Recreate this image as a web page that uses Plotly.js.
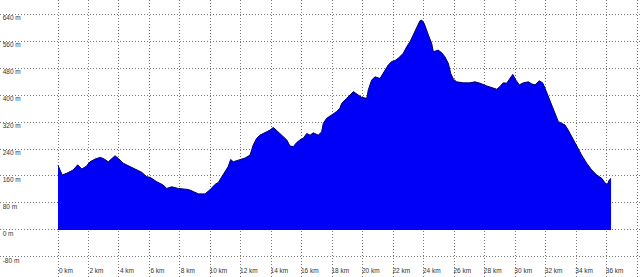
<!DOCTYPE html>
<html>
<head>
<meta charset="utf-8">
<script src="https://cdn.plot.ly/plotly-3.0.1.min.js"></script>
<style>html,body{margin:0;padding:0;background:#fff;}#chart{width:640px;height:277px;}</style>
</head>
<body>
<div id="chart"></div>
<script>
var distanceKm = [0.00,0.07,0.13,0.28,0.57,1.00,1.29,1.56,1.84,2.10,2.43,2.76,2.97,3.30,3.52,3.74,3.96,4.28,4.72,5.16,5.49,5.82,6.04,6.48,6.91,7.13,7.46,7.89,8.55,8.88,9.21,9.65,9.97,10.30,10.52,10.85,11.17,11.33,11.50,11.83,12.27,12.60,12.81,13.04,13.25,13.69,13.91,14.13,14.35,14.68,15.01,15.22,15.44,15.66,15.88,16.10,16.32,16.54,16.75,17.08,17.30,17.41,17.63,17.96,18.29,18.50,18.61,18.94,19.38,19.70,19.93,20.26,20.36,20.58,20.80,21.13,21.46,21.67,21.90,22.11,22.33,22.66,22.88,23.10,23.31,23.54,23.75,23.86,24.03,24.30,24.52,24.63,24.95,25.18,25.39,25.61,25.77,25.94,26.16,26.60,27.03,27.36,27.69,28.13,28.46,28.79,29.00,29.22,29.44,29.61,29.84,30.05,30.27,30.53,30.86,31.08,31.30,31.58,31.80,31.96,32.17,32.39,32.61,32.83,33.05,33.27,33.48,33.71,34.04,34.36,34.69,35.02,35.35,35.68,35.89,36.04,36.17,36.29];
var elevationM = [192,183,178,163,168,178,193,181,188,202,210,215,212,202,212,220,212,198,188,178,171,158,156,143,133,123,128,123,120,114,107,107,119,135,141,165,188,209,202,207,213,222,252,272,281,291,296,304,294,281,267,249,247,259,267,272,286,281,288,281,291,316,331,341,351,361,375,390,410,400,393,390,415,444,454,449,474,489,499,502,509,524,543,558,578,602,620,622,612,578,553,528,533,525,513,494,464,447,439,436,436,439,435,427,423,417,425,436,435,447,461,444,430,436,439,433,430,442,436,420,395,370,346,321,316,311,296,276,247,222,198,178,163,153,140,134,148,153];
var xTickVals = [0,2,4,6,8,10,12,14,16,18,20,22,24,26,28,30,32,34,36,38];
var xTickText = ["0 km","2 km","4 km","6 km","8 km","10 km","12 km","14 km","16 km","18 km","20 km","22 km","24 km","26 km","28 km","30 km","32 km","34 km","36 km","38 km"];
var yTickVals = [-80,0,80,160,240,320,400,480,560,640];
var yTickText = ["-80 m","0 m","80 m","160 m","240 m","320 m","400 m","480 m","560 m","640 m"];

var trace = {
  x: distanceKm,
  y: elevationM,
  type: 'scatter',
  mode: 'lines',
  fill: 'tozeroy',
  fillcolor: '#0000f8',
  line: {color: '#000070', width: 1},
  hoverinfo: 'skip'
};

var tickFont = {family: 'Liberation Sans, Arial, sans-serif', size: 6.5, color: '#333333'};

var layout = {
  width: 640,
  height: 277,
  margin: {l: 0, r: 0, t: 0, b: 0, pad: 0},
  paper_bgcolor: '#ffffff',
  plot_bgcolor: '#ffffff',
  showlegend: false,
  xaxis: {
    range: [-3.806, 38.19],
    tickmode: 'array',
    tickvals: xTickVals,
    ticktext: xTickText,
    ticklabelposition: 'inside',
    ticklabelshift: 8,
    ticks: '',
    showgrid: true,
    gridcolor: '#7a7a7a',
    griddash: '1px,2px',
    gridwidth: 1,
    zeroline: false,
    showline: false,
    tickfont: tickFont,
    fixedrange: true
  },
  yaxis: {
    range: [-139.3, 681.5],
    tickmode: 'array',
    tickvals: yTickVals,
    ticktext: yTickText,
    ticklabelposition: 'inside',
    ticklabelshift: 4,
    ticklabelstandoff: 1,
    ticks: '',
    showgrid: true,
    gridcolor: '#7a7a7a',
    griddash: '1px,2px',
    gridwidth: 1,
    zeroline: false,
    showline: true,
    linecolor: '#8090b0',
    linewidth: 2,
    tickfont: tickFont,
    fixedrange: true
  }
};

Plotly.newPlot('chart', [trace], layout, {displayModeBar: false, staticPlot: true});
</script>
</body>
</html>
